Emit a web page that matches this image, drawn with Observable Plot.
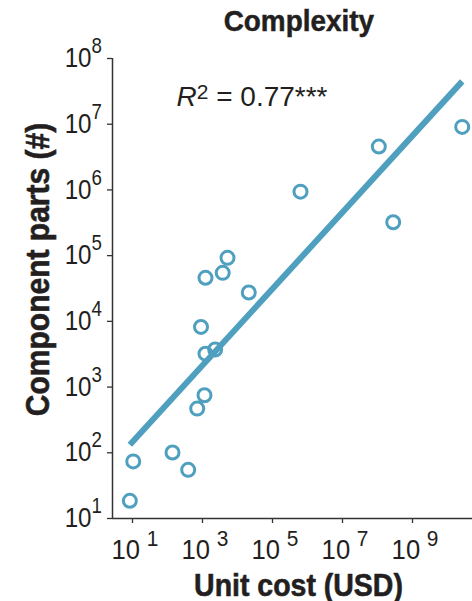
<!DOCTYPE html>
<html>
<head>
<meta charset="utf-8">
<script src="https://cdn.jsdelivr.net/npm/d3@7"></script>
<script src="https://cdn.jsdelivr.net/npm/@observablehq/plot@0.6"></script>
<style>
  html, body { margin: 0; padding: 0; background: #fff; }
  #chart { width: 472px; }
  .title {
    height: 44px; box-sizing: border-box;
    padding-top: 6px; padding-left: 126px;
    text-align: center;
    font: bold 30px "Liberation Sans", Arial, sans-serif;
    line-height: 1; color: #231f20;
  }
  .title span { display: inline-block; transform: scaleX(0.93); -webkit-text-stroke: 0.5px #231f20; }
</style>
</head>
<body>
<div id="chart">
  <div class="title"><span>Complexity</span></div>
</div>
<script>
// Unit cost (USD) and number of component parts for each product
const unitCost = [8.4, 10.5, 139, 390, 706, 1140, 1218, 2300, 906, 1218, 3780, 5180, 21000, 631000, 1.09e8, 2.81e8, 2.63e10];
const componentParts = [18.6, 74, 101, 55, 470, 750, 3220, 3730, 8220, 46000, 54700, 92500, 27500, 942000, 4.57e6, 322000, 9.1e6];

const xTicks = [1e1, 1e3, 1e5, 1e7, 1e9];
const yTicks = [1e1, 1e2, 1e3, 1e4, 1e5, 1e6, 1e7, 1e8];

const xLabel = "Unit cost (USD)";
const yLabel = "Component parts (#)";

const blue = "#4f9fbf";
const ink = "#231f20";
const font = '"Liberation Sans", Arial, sans-serif';

const products = unitCost.map((cost, i) => ({cost, parts: componentParts[i]}));

// Least-squares fit in log–log space
const lx = unitCost.map(Math.log10);
const ly = componentParts.map(Math.log10);
const mx = d3.mean(lx), my = d3.mean(ly);
let sxy = 0, sxx = 0, syy = 0;
for (let i = 0; i < lx.length; i++) {
  sxy += (lx[i] - mx) * (ly[i] - my);
  sxx += (lx[i] - mx) ** 2;
  syy += (ly[i] - my) ** 2;
}
const slope = sxy / sxx;
const intercept = my - slope * mx;
const r2 = (sxy * sxy) / (sxx * syy);
const fit = d3.extent(unitCost).map(cost => ({cost, parts: 10 ** (intercept + slope * Math.log10(cost))}));

const exponent = d => String(Math.round(Math.log10(d)));

const plot = Plot.plot({
  width: 472,
  height: 557,
  marginLeft: 112,
  marginRight: 0,
  marginTop: 14,
  marginBottom: 83,
  style: {fontFamily: font, color: ink, background: "#fff", overflow: "visible"},
  x: {type: "log", domain: [10 ** 0.4286, 10 ** 10.714]},
  y: {type: "log", domain: [1e1, 1e8]},
  marks: [
    Plot.axisX({ticks: xTicks, tickFormat: () => "", tickSize: 5, stroke: "#333", strokeWidth: 1.3, label: null}),
    Plot.axisY({ticks: yTicks, tickFormat: () => "", tickSize: 5, stroke: "#333", strokeWidth: 1.3, label: null}),
    Plot.ruleX([10 ** 0.4286], {stroke: "#333", strokeWidth: 1.5}),
    Plot.ruleY([1e1], {stroke: "#333", strokeWidth: 1.5}),
    Plot.line(fit, {x: "cost", y: "parts", stroke: blue, strokeWidth: 6, strokeLinecap: "butt"}),
    Plot.dot(products, {x: "cost", y: "parts", r: 6.5, stroke: blue, strokeWidth: 3, fill: "none"}),
    Plot.text([`R2 = ${r2.toFixed(2)}***`], {
      frameAnchor: "top-left", textAnchor: "start", lineAnchor: "bottom",
      dx: 64, dy: 47, fontSize: 28, fill: ink
    }),
    Plot.text([xLabel], {
      frameAnchor: "bottom", textAnchor: "middle", lineAnchor: "bottom",
      dx: 6, dy: 77, fontSize: 32, fontWeight: "bold", fill: ink, stroke: ink, strokeWidth: 0.6
    }),
    Plot.text([yLabel], {
      frameAnchor: "left", textAnchor: "middle", lineAnchor: "bottom", rotate: -90,
      dx: -64, dy: -19, fontSize: 33, fontWeight: "bold", fill: ink, stroke: ink, strokeWidth: 0.6
    })
  ]
});

const svg = d3.select(plot);
const sx = plot.scale("x"), sy = plot.scale("y");
const left = sx.range[0], bottom = sy.range[0];

// Narrow a text element horizontally about its anchor
function condense(node, k) {
  const t = d3.select(node);
  t.attr("transform", `${t.attr("transform") || ""} scale(${k},1)`);
}

// Power-of-ten tick labels with raised exponents, placed by the plot's scales
const yLabels = svg.append("g")
  .attr("font-family", font).attr("font-size", 28.5).attr("text-anchor", "end").attr("fill", ink);
for (const v of yTicks) {
  const t = yLabels.append("text")
    .attr("transform", `translate(${left - 10},${sy.apply(v)}) scale(0.85,1)`)
    .attr("dy", "0.32em");
  t.append("tspan").text("10");
  t.append("tspan").attr("dy", -14).attr("font-size", 22).text(exponent(v));
}
const xLabels = svg.append("g")
  .attr("font-family", font).attr("font-size", 27).attr("text-anchor", "middle").attr("fill", ink);
for (const v of xTicks) {
  const t = xLabels.append("text")
    .attr("transform", `translate(${sx.apply(v) + 3},${bottom + 22}) scale(0.95,1)`)
    .attr("dy", "0.71em");
  t.append("tspan").text("10");
  t.append("tspan").attr("dx", 7).attr("dy", -13).attr("font-size", 22).text(exponent(v));
}

// R² annotation with italic R and superscript 2
svg.selectAll("text").filter(function () { return this.textContent.startsWith("R2 ="); }).each(function () {
  const t = d3.select(this), rest = t.text().slice(2);
  t.text("");
  t.append("tspan").attr("font-style", "italic").text("R");
  t.append("tspan").attr("dy", -7).attr("font-size", 21).text("2");
  t.append("tspan").attr("dy", 7).text(rest);
});

// Condensed bold axis titles
svg.selectAll("text").filter(function () {
  return this.textContent === xLabel || this.textContent === yLabel;
}).each(function () {
  condense(this, this.textContent === xLabel ? 0.89 : 0.91);
});

document.getElementById("chart").append(plot);
</script>
</body>
</html>
